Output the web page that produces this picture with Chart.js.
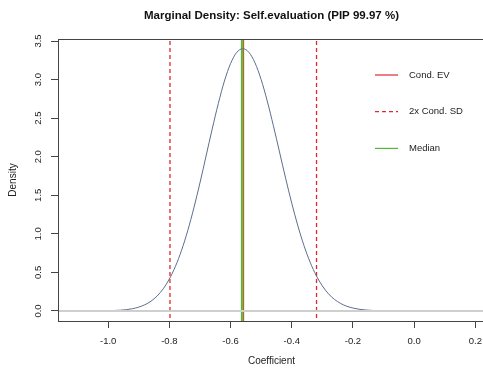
<!DOCTYPE html>
<html>
<head>
<meta charset="utf-8">
<script src="https://cdn.jsdelivr.net/npm/chart.js@4"></script>
<style>
  html, body { margin: 0; padding: 0; background: #fff; overflow: hidden; }
  #wrap { width: 483px; height: 370px; overflow: hidden; }
  #box { width: 490px; height: 370px; }
</style>
</head>
<body>
<div id="wrap"><div id="box"><canvas id="c"></canvas></div></div>
<script>
/* ---------- data ---------- */
const TITLE = "Marginal Density: Self.evaluation (PIP 99.97 %)";

const densX = [-1.12, -1.08, -1.04, -1.00, -0.96, -0.94, -0.92, -0.90, -0.88, -0.86,
  -0.84, -0.82, -0.80, -0.78, -0.76, -0.74, -0.72, -0.70, -0.68, -0.66,
  -0.64, -0.62, -0.60, -0.58, -0.56, -0.54, -0.52, -0.50, -0.48, -0.46,
  -0.44, -0.42, -0.40, -0.38, -0.36, -0.34, -0.32, -0.30, -0.28, -0.26,
  -0.24, -0.22, -0.20, -0.18, -0.16, -0.12, -0.08, -0.04, 0.00, 0.04,
  0.08, 0.12, 0.16, 0.20];
const densY = [0.0000, 0.0002, 0.0007, 0.0029, 0.0098, 0.0174, 0.030, 0.050, 0.081, 0.127,
  0.194, 0.288, 0.415, 0.580, 0.788, 1.041, 1.334, 1.661, 2.009, 2.359,
  2.690, 2.981, 3.207, 3.351, 3.400, 3.353, 3.216, 3.000, 2.721, 2.402,
  2.062, 1.721, 1.398, 1.104, 0.848, 0.633, 0.460, 0.325, 0.223, 0.149,
  0.097, 0.061, 0.038, 0.0227, 0.0131, 0.0041, 0.0011, 0.0003, 0.0001, 0,
  0, 0, 0, 0];

const condEV = -0.558;
const median = -0.563;
const sdBounds = [-0.798, -0.319];

const xTicks = [-1.0, -0.8, -0.6, -0.4, -0.2, 0.0, 0.2];
const yTicks = [0.0, 0.5, 1.0, 1.5, 2.0, 2.5, 3.0, 3.5];
const xRange = [-1.164, 0.2315];
const yRange = [-0.13, 3.526];

const legendItems = [
  { label: "Cond. EV", color: "#E0282E", dash: [] },
  { label: "2x Cond. SD", color: "#E0282E", dash: [4, 3] },
  { label: "Median", color: "#55B83A", dash: [] },
];

/* ---------- helpers ---------- */
const FONT = "'Liberation Sans', Arial, Helvetica, sans-serif";
const vline = (x) => [{ x, y: -1 }, { x, y: 5 }];

/* draws title, box, rotated y tick labels, legend */
const rPlot = {
  id: "rPlot",
  afterDraw(chart) {
    const { ctx, chartArea: a, scales } = chart;
    ctx.save();
    // box
    ctx.strokeStyle = "#444";
    ctx.lineWidth = 1;
    ctx.strokeRect(Math.round(a.left) + 0.5, Math.round(a.top) + 0.5,
      Math.round(a.right - a.left), Math.round(a.bottom - a.top));

    // title
    ctx.fillStyle = "#111";
    ctx.font = "bold 11.5px " + FONT;
    ctx.textAlign = "center";
    ctx.textBaseline = "middle";
    ctx.fillText(TITLE, (a.left + a.right) / 2, 16);

    // y tick labels, rotated like R
    ctx.font = "9.5px " + FONT;
    ctx.fillStyle = "#222";
    yTicks.forEach(v => {
      const py = scales.y.getPixelForValue(v);
      ctx.save();
      ctx.translate(a.left - 19.5, py);
      ctx.rotate(-Math.PI / 2);
      ctx.textAlign = "center";
      ctx.textBaseline = "middle";
      ctx.fillText(v.toFixed(1), 0, 0);
      ctx.restore();
    });

    // legend
    ctx.font = "9.5px " + FONT;
    ctx.textAlign = "left";
    ctx.textBaseline = "middle";
    legendItems.forEach((it, i) => {
      const y = 75 + i * 36.7;
      ctx.beginPath();
      ctx.setLineDash(it.dash);
      ctx.strokeStyle = it.color;
      ctx.lineWidth = 1.2;
      ctx.moveTo(375, y);
      ctx.lineTo(398, y);
      ctx.stroke();
      ctx.setLineDash([]);
      ctx.fillStyle = "#222";
      ctx.fillText(it.label, 409, y);
    });
    ctx.restore();
  }
};

/* ---------- chart ---------- */
new Chart(document.getElementById("c"), {
  type: "scatter",
  data: {
    datasets: [
      { data: [{ x: -2, y: 0 }, { x: 1, y: 0 }], borderColor: "#CFCFCF", borderWidth: 2 },
      { data: densX.map((x, i) => ({ x, y: densY[i] })), borderColor: "#5B6F8C",
        borderWidth: 1, cubicInterpolationMode: "monotone" },
      { data: vline(sdBounds[0]), borderColor: "#E0282E", borderWidth: 1.3, borderDash: [4, 3] },
      { data: vline(sdBounds[1]), borderColor: "#E0282E", borderWidth: 1.3, borderDash: [4, 3] },
      { data: vline(median), borderColor: "#55B83A", borderWidth: 2 },
      { data: vline(condEV), borderColor: "#C0602A", borderWidth: 1.5 },
    ].map(d => ({ showLine: true, pointRadius: 0, pointHoverRadius: 0, clip: 0, ...d })),
  },
  options: {
    responsive: true,
    maintainAspectRatio: false,
    animation: false,
    events: [],
    layout: { padding: { top: 39, right: 4, left: 0, bottom: 0 } },
    plugins: { legend: { display: false }, tooltip: { enabled: false } },
    scales: {
      x: {
        type: "linear",
        min: xRange[0], max: xRange[1],
        afterBuildTicks: s => { s.ticks = xTicks.map(value => ({ value })); },
        afterFit: s => { s.height = 49; },
        grid: { drawOnChartArea: false, drawTicks: true, tickLength: 7, color: "#444" },
        border: { display: false },
        ticks: { color: "#222", padding: 8, font: { family: FONT, size: 9.5 },
                 callback: v => (Math.abs(v) < 1e-9 ? 0 : v).toFixed(1) },
        title: { display: true, text: "Coefficient", color: "#222",
                 font: { family: FONT, size: 10 }, padding: { top: 0, bottom: 3 } },
      },
      y: {
        type: "linear",
        min: yRange[0], max: yRange[1],
        afterBuildTicks: s => { s.ticks = yTicks.map(value => ({ value })); },
        afterFit: s => { s.width = 58; },
        grid: { drawOnChartArea: false, drawTicks: true, tickLength: 7, color: "#444" },
        border: { display: false },
        ticks: { display: false },
        title: { display: true, text: "Density", color: "#222",
                 font: { family: FONT, size: 10 }, padding: { top: 7, bottom: 0 } },
      },
    },
  },
  plugins: [rPlot],
});
</script>
</body>
</html>
